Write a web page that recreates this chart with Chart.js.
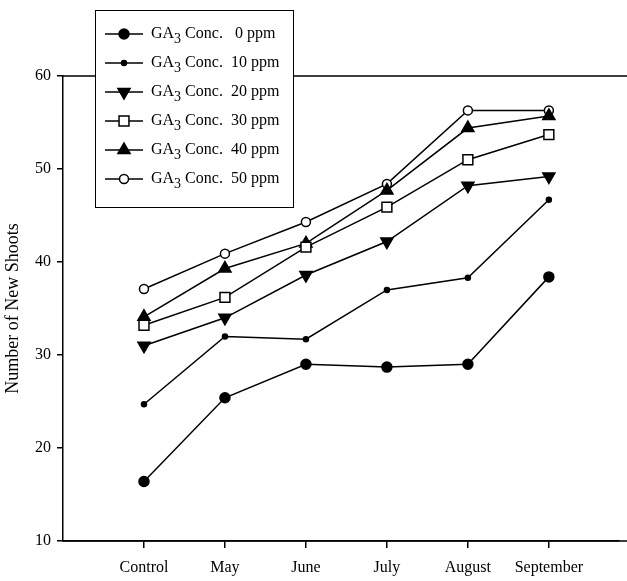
<!DOCTYPE html>
<html>
<head>
<meta charset="utf-8">
<script src="https://cdn.jsdelivr.net/npm/chart.js@4/dist/chart.umd.min.js"></script>
<style>
  body { margin: 0; background: #fff; }
</style>
</head>
<body>
<canvas id="myChart" width="627" height="581"></canvas>
<script>
var months = ["Control", "May", "June", "July", "August", "September"];
var ppm0 = [16.4, 25.4, 29.0, 28.7, 29.0, 38.4];
var ppm10 = [24.7, 32.0, 31.7, 37.0, 38.3, 46.7];
var ppm20 = [31.0, 34.0, 38.6, 42.2, 48.2, 49.2];
var ppm30 = [33.2, 36.2, 41.6, 45.9, 51.0, 53.7];
var ppm40 = [34.1, 39.3, 42.0, 47.7, 54.4, 55.7];
var ppm50 = [37.1, 40.9, 44.3, 48.4, 56.3, 56.3];
var yTicks = [10, 20, 30, 40, 50, 60];

var FONT = "Liberation Serif";

function series(label, ppmText, values, style, radius, rotation, fill) {
  return {
    label: label,
    ppmText: ppmText,
    data: values.map(function (v, i) { return { x: i, y: v }; }),
    borderColor: "#000",
    borderWidth: 1.5,
    backgroundColor: fill,
    pointStyle: style,
    pointRadius: radius,
    pointHoverRadius: radius,
    pointRotation: rotation,
    pointBorderWidth: 1.5,
    pointBorderColor: "#000",
    pointBackgroundColor: fill,
    tension: 0
  };
}

// line along the top of the plot area, and bottom axis carried to the edge
var frameLines = {
  id: "frameLines",
  beforeDatasetsDraw: function (chart) {
    var ctx = chart.ctx, a = chart.chartArea;
    ctx.save();
    ctx.strokeStyle = "#000";
    ctx.lineWidth = 1.5;
    ctx.beginPath();
    ctx.moveTo(a.left, a.top);
    ctx.lineTo(chart.width, a.top);
    ctx.moveTo(a.left, a.bottom);
    ctx.lineTo(chart.width, a.bottom);
    ctx.stroke();
    ctx.restore();
  }
};

// boxed legend with subscript 3
var boxLegend = {
  id: "boxLegend",
  afterDraw: function (chart) {
    var ctx = chart.ctx;
    ctx.save();
    ctx.fillStyle = "#fff";
    ctx.fillRect(95, 10, 198, 197);
    ctx.strokeStyle = "#000";
    ctx.lineWidth = 1;
    ctx.strokeRect(95.5, 10.5, 198, 197);
    chart.data.datasets.forEach(function (ds, i) {
      var y = 34 + i * 29;
      ctx.strokeStyle = "#000";
      ctx.lineWidth = 1.5;
      ctx.beginPath();
      ctx.moveTo(105, y);
      ctx.lineTo(143, y);
      ctx.stroke();
      ctx.fillStyle = ds.pointBackgroundColor;
      ctx.strokeStyle = "#000";
      Chart.helpers.drawPoint(ctx, {
        pointStyle: ds.pointStyle,
        radius: ds.pointRadius,
        rotation: ds.pointRotation,
        borderWidth: 1.5
      }, 124, y);
      ctx.fillStyle = "#000";
      ctx.textBaseline = "middle";
      ctx.textAlign = "left";
      ctx.font = "16px '" + FONT + "'";
      var x = 151;
      ctx.fillText("GA", x, y);
      x += ctx.measureText("GA").width;
      ctx.font = "14px '" + FONT + "'";
      ctx.fillText("3", x, y + 5);
      x += ctx.measureText("3").width;
      ctx.font = "16px '" + FONT + "'";
      ctx.fillText(" Conc.", x, y);
      ctx.fillText(ds.ppmText, 231, y);
    });
    ctx.restore();
  }
};

var ctx = document.getElementById("myChart").getContext("2d");
var chart = new Chart(ctx, {
  type: "line",
  data: {
    datasets: [
      series("GA3 Conc. 0 ppm", " 0 ppm", ppm0, "circle", 5, 0, "#000"),
      series("GA3 Conc. 10 ppm", "10 ppm", ppm10, "circle", 2.5, 0, "#000"),
      series("GA3 Conc. 20 ppm", "20 ppm", ppm20, "triangle", 7, 180, "#000"),
      series("GA3 Conc. 30 ppm", "30 ppm", ppm30, "rect", 7, 0, "#fff"),
      series("GA3 Conc. 40 ppm", "40 ppm", ppm40, "triangle", 7, 0, "#000"),
      series("GA3 Conc. 50 ppm", "50 ppm", ppm50, "circle", 4.5, 0, "#fff")
    ]
  },
  options: {
    responsive: false,
    animation: false,
    layout: { padding: { top: 76, right: 0, left: 0, bottom: 0 } },
    plugins: {
      legend: { display: false },
      tooltip: { enabled: false }
    },
    scales: {
      x: {
        type: "linear",
        min: -1,
        max: 5.86,
        afterBuildTicks: function (scale) {
          scale.ticks = months.map(function (m, i) { return { value: i }; });
        },
        afterFit: function (scale) { scale.height = 40; },
        ticks: {
          color: "#000",
          font: { family: FONT, size: 16 },
          padding: 10,
          maxRotation: 0,
          callback: function (v) { return months[v]; }
        },
        grid: { drawOnChartArea: false, tickLength: 7, color: "#000", lineWidth: 1.5 },
        border: { color: "#000", width: 1.5 }
      },
      y: {
        min: 10,
        max: 60,
        afterBuildTicks: function (scale) {
          scale.ticks = yTicks.map(function (v) { return { value: v }; });
        },
        afterFit: function (scale) { scale.width = 63; },
        ticks: {
          color: "#000",
          font: { family: FONT, size: 16 },
          padding: 6
        },
        title: {
          display: true,
          text: "Number of New Shoots",
          color: "#000",
          font: { family: FONT, size: 18 },
          padding: { top: 2, bottom: 0 }
        },
        grid: { drawOnChartArea: false, tickLength: 6, color: "#000", lineWidth: 1.5 },
        border: { color: "#000", width: 1.5 }
      }
    }
  },
  plugins: [frameLines, boxLegend]
});
</script>
</body>
</html>
